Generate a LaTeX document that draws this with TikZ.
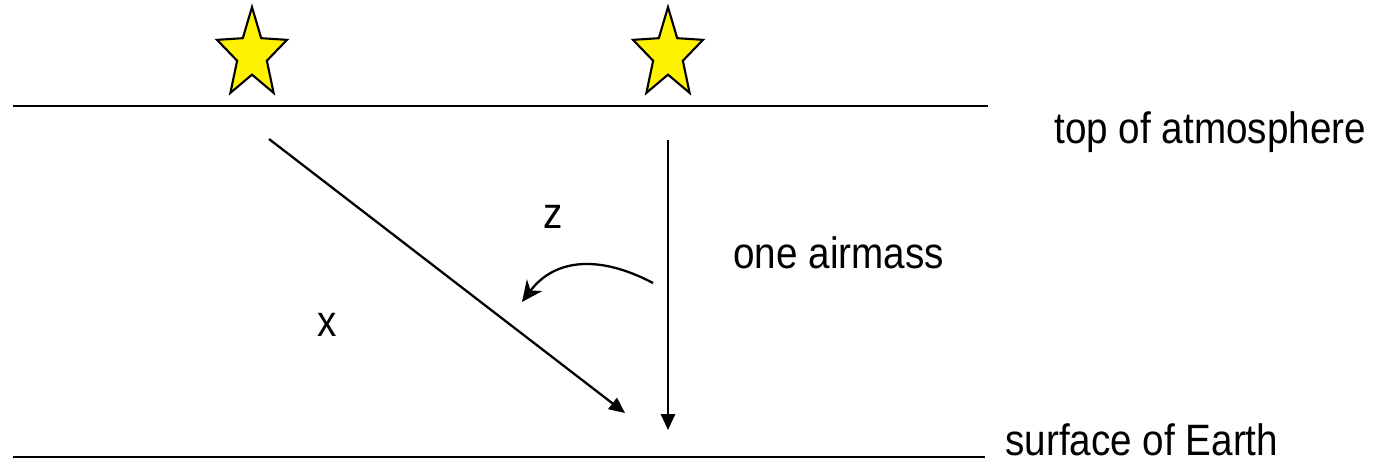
\documentclass[tikz,border=0pt]{standalone}
\usepackage{fontspec}
\newfontfamily\labelfont{Liberation Sans}[FakeStretch=0.88]
\usetikzlibrary{shapes.geometric,arrows.meta}

\begin{document}
\begin{tikzpicture}[
  x=0.02cm, y=-0.02cm,
  font=\labelfont\fontsize{25}{30}\selectfont,
  starshape/.style={star, star points=5, star point ratio=2.35, draw, fill=yellow,
    line width=1.2pt, minimum size=1.47cm, inner sep=0pt, yscale=1.29},
  level/.style={line width=1.6pt},
  ray/.style={line width=1.3pt, -{Triangle[length=9pt, width=8pt]}},
  label/.style={inner sep=0pt, anchor=base west},
  >=Stealth
]
\useasboundingbox (0,0) rectangle (1374,464);
% stars
\node[starshape] (starA) at (252,54.5) {};
\node[starshape] (starB) at (668,54.5) {};
% layers
\coordinate (atmL) at (13,106);
\coordinate (atmR) at (988,106);
\coordinate (gndL) at (13,457);
\coordinate (gndR) at (985,457);
\draw[level] (atmL) -- (atmR);
\draw[level] (gndL) -- (gndR);
\node[label] (atm) at (1054,143) {top of atmosphere};
\node[label] (gnd) at (1005,455) {surface of Earth};
% light paths
\coordinate (slantTop) at (269,139);
\coordinate (slantBot) at (625,413);
\coordinate (vertTop) at (668,140);
\coordinate (vertBot) at (668,430);
\draw[ray] (slantTop) -- (slantBot);
\draw[ray] (vertTop) -- (vertBot);
% zenith angle
\coordinate (angA) at (653,283);
\coordinate (angB) at (522,302);
\draw[line width=1.3pt, -{Stealth[length=12pt, width=11pt]}] (angA) .. controls (600,255) and (555,258) .. (angB);
\node[label, anchor=base] (zlab) at (553,228) {z};
\node[label, anchor=base] (xlab) at (327,336) {x};
\node[label] (one) at (733,268) {one airmass};
\end{tikzpicture}
\end{document}
